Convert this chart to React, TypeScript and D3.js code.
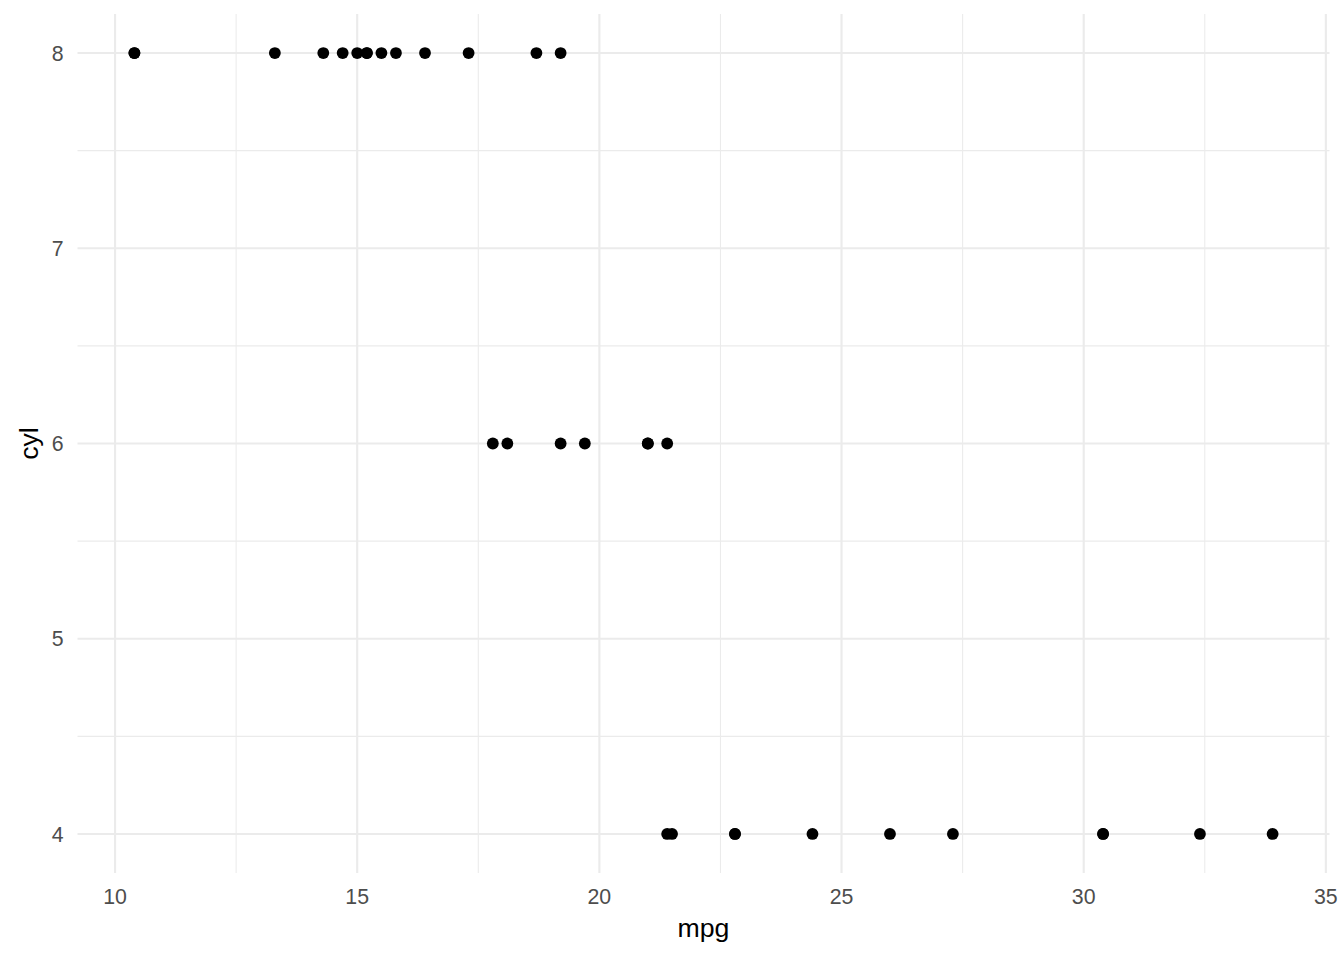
import React from "react";
import * as d3 from "d3";

const mpg = [21.0, 21.0, 22.8, 21.4, 18.7, 18.1, 14.3, 24.4, 22.8, 19.2, 17.8, 16.4, 17.3, 15.2, 10.4, 10.4, 14.7, 32.4, 30.4, 33.9, 21.5, 15.5, 15.2, 13.3, 19.2, 27.3, 26.0, 30.4, 15.8, 19.7, 15.0, 21.4];
const cyl = [6, 6, 4, 6, 8, 6, 8, 4, 4, 6, 6, 8, 8, 8, 8, 8, 8, 4, 4, 4, 4, 8, 8, 8, 8, 4, 4, 4, 8, 6, 8, 4];
const xTicks = [10, 15, 20, 25, 30, 35];
const xMinor = [12.5, 17.5, 22.5, 27.5, 32.5];
const yTicks = [4, 5, 6, 7, 8];
const yMinor = [4.5, 5.5, 6.5, 7.5];

export default function App() {
  const W = 1344, H = 960;
  const left = 77.5, right = 1329.5, top = 14, bottom = 873;
  const xExt = d3.extent(mpg) as [number, number];
  const xPad = (xExt[1] - xExt[0]) * 0.05;
  const yExt = d3.extent(cyl) as [number, number];
  const yPad = (yExt[1] - yExt[0]) * 0.05;
  const x = d3.scaleLinear().domain([xExt[0] - xPad, xExt[1] + xPad]).range([left, right]);
  const y = d3.scaleLinear().domain([yExt[0] - yPad, yExt[1] + yPad]).range([bottom, top]);
  const font = "'Liberation Sans', Arial, sans-serif";
  const tickSize = 21.3;
  const titleSize = 26.7;
  return (
    <svg width={W} height={H} style={{ position: "absolute", left: 0, top: 0, background: "#fff" }}>
      <rect width={W} height={H} fill="#fff" />
      {xMinor.map((t) => (
        <line key={"xm" + t} x1={x(t)} x2={x(t)} y1={top} y2={bottom} stroke="#EBEBEB" strokeWidth={1.07} />
      ))}
      {yMinor.map((t) => (
        <line key={"ym" + t} y1={y(t)} y2={y(t)} x1={left} x2={right} stroke="#EBEBEB" strokeWidth={1.07} />
      ))}
      {xTicks.map((t) => (
        <line key={"x" + t} x1={x(t)} x2={x(t)} y1={top} y2={bottom} stroke="#EBEBEB" strokeWidth={2.13} />
      ))}
      {yTicks.map((t) => (
        <line key={"y" + t} y1={y(t)} y2={y(t)} x1={left} x2={right} stroke="#EBEBEB" strokeWidth={2.13} />
      ))}
      {mpg.map((m, i) => (
        <circle key={i} cx={x(m)} cy={y(cyl[i])} r={5.9} fill="#000" />
      ))}
      {xTicks.map((t) => (
        <text key={"xl" + t} x={x(t)} y={904} textAnchor="middle" fontFamily={font} fontSize={tickSize} fill="#4D4D4D">
          {t}
        </text>
      ))}
      {yTicks.map((t) => (
        <text key={"yl" + t} x={63.5} y={y(t) + 7.6} textAnchor="end" fontFamily={font} fontSize={tickSize} fill="#4D4D4D">
          {t}
        </text>
      ))}
      <text x={(left + right) / 2} y={937} textAnchor="middle" fontFamily={font} fontSize={titleSize} fill="#000">
        mpg
      </text>
      <text
        transform={`translate(38, ${(top + bottom) / 2}) rotate(-90)`}
        textAnchor="middle"
        fontFamily={font}
        fontSize={titleSize}
        fill="#000"
      >
        cyl
      </text>
    </svg>
  );
}
